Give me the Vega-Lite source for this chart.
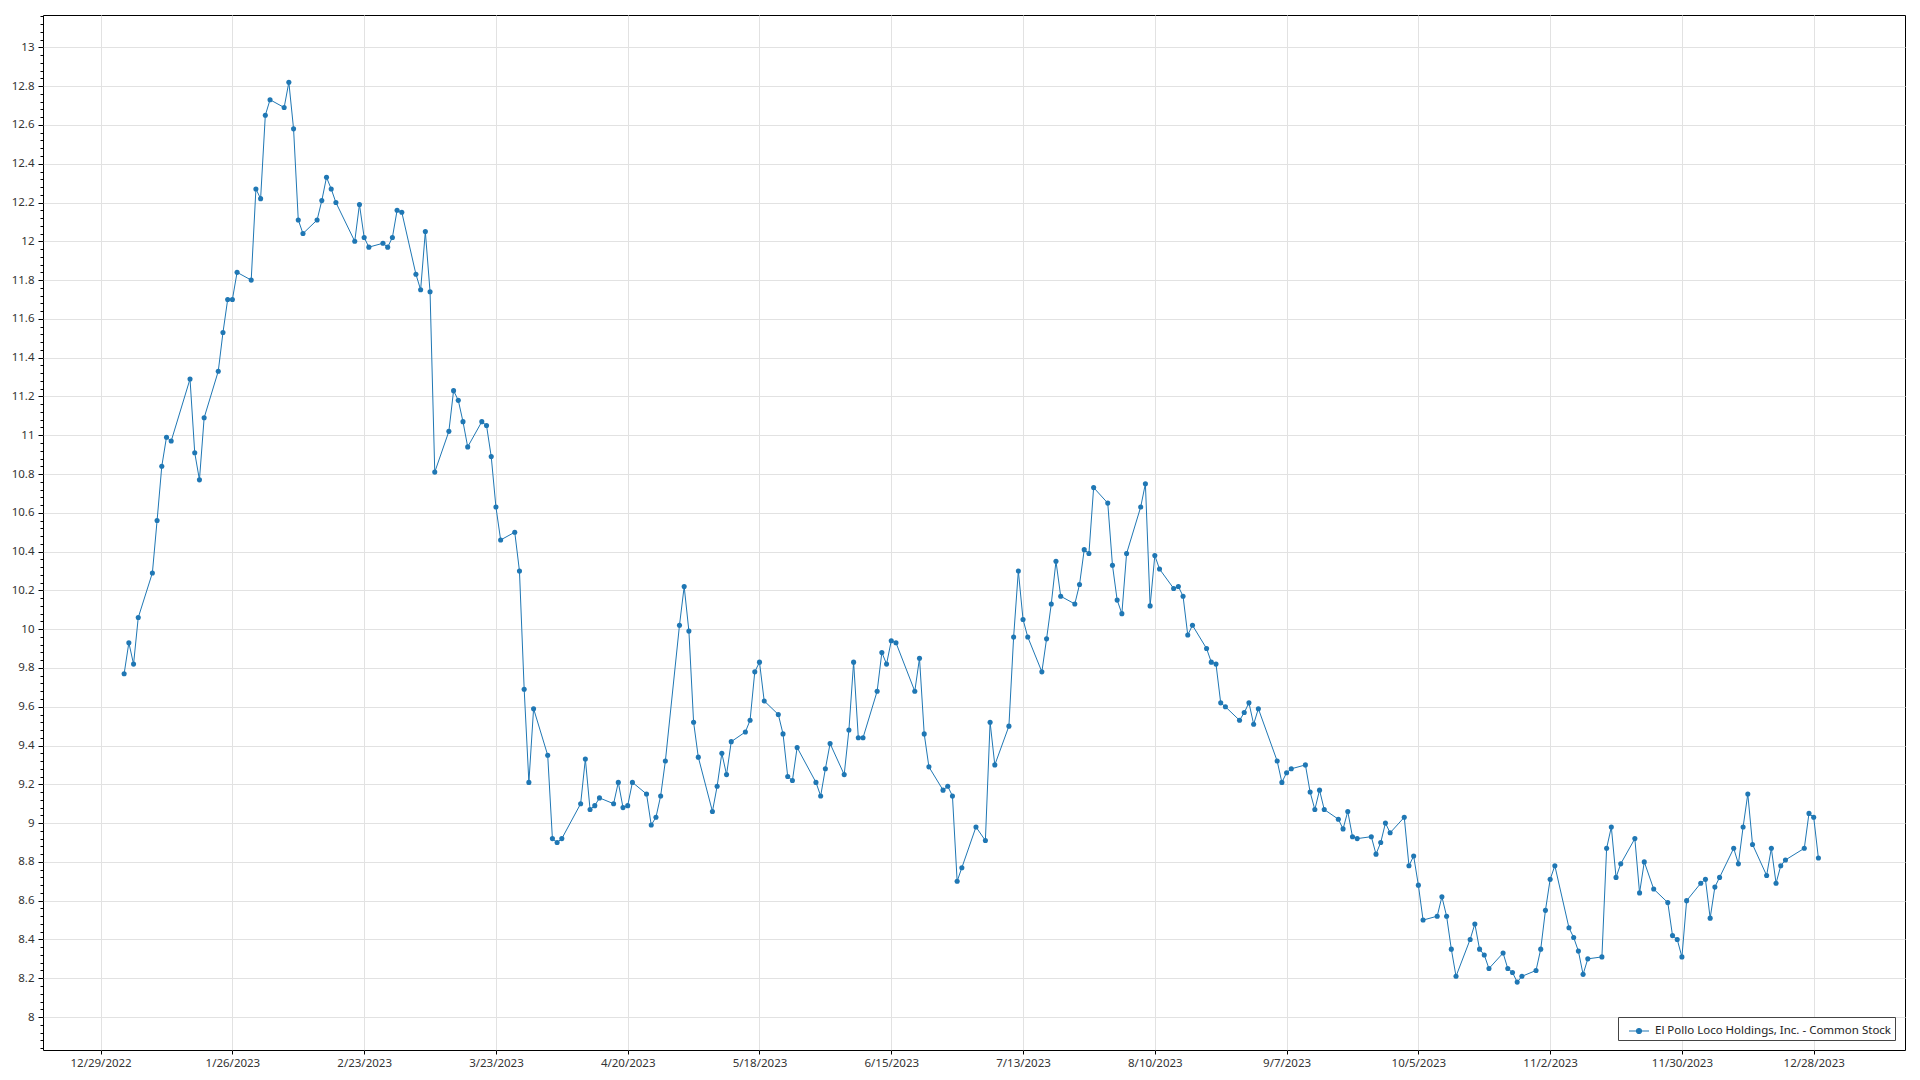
{
"$schema": "https://vega.github.io/schema/vega-lite/v6.json",
"width": 1862, "height": 1035,
"autosize": {"type": "none"},
"padding": {"left": 43, "top": 15, "right": 15, "bottom": 30},
"background": "white",
"config": {
  "view": {"stroke": "#000", "strokeWidth": 1},
  "axis": {"labelFont": "Noto Sans", "labelFontSize": 11.5, "labelColor": "#333", "gridColor": "#e2e2e2", "gridWidth": 1, "domain": false, "tickColor": "#000", "tickWidth": 1}
},
"data": {"format": {"parse": {"d": "date:'%Y-%m-%d'"}}, "values": [
{"d":"2023-01-03","v":9.77},{"d":"2023-01-04","v":9.93},{"d":"2023-01-05","v":9.82},{"d":"2023-01-06","v":10.06},{"d":"2023-01-09","v":10.29},{"d":"2023-01-10","v":10.56},{"d":"2023-01-11","v":10.84},{"d":"2023-01-12","v":10.99},{"d":"2023-01-13","v":10.97},{"d":"2023-01-17","v":11.29},{"d":"2023-01-18","v":10.91},{"d":"2023-01-19","v":10.77},{"d":"2023-01-20","v":11.09},{"d":"2023-01-23","v":11.33},{"d":"2023-01-24","v":11.53},{"d":"2023-01-25","v":11.70},{"d":"2023-01-26","v":11.70},{"d":"2023-01-27","v":11.84},{"d":"2023-01-30","v":11.80},{"d":"2023-01-31","v":12.27},
{"d":"2023-02-01","v":12.22},{"d":"2023-02-02","v":12.65},{"d":"2023-02-03","v":12.73},{"d":"2023-02-06","v":12.69},{"d":"2023-02-07","v":12.82},{"d":"2023-02-08","v":12.58},{"d":"2023-02-09","v":12.11},{"d":"2023-02-10","v":12.04},{"d":"2023-02-13","v":12.11},{"d":"2023-02-14","v":12.21},{"d":"2023-02-15","v":12.33},{"d":"2023-02-16","v":12.27},{"d":"2023-02-17","v":12.20},{"d":"2023-02-21","v":12.00},{"d":"2023-02-22","v":12.19},{"d":"2023-02-23","v":12.02},{"d":"2023-02-24","v":11.97},{"d":"2023-02-27","v":11.99},{"d":"2023-02-28","v":11.97},
{"d":"2023-03-01","v":12.02},{"d":"2023-03-02","v":12.16},{"d":"2023-03-03","v":12.15},{"d":"2023-03-06","v":11.83},{"d":"2023-03-07","v":11.75},{"d":"2023-03-08","v":12.05},{"d":"2023-03-09","v":11.74},{"d":"2023-03-10","v":10.81},{"d":"2023-03-13","v":11.02},{"d":"2023-03-14","v":11.23},{"d":"2023-03-15","v":11.18},{"d":"2023-03-16","v":11.07},{"d":"2023-03-17","v":10.94},{"d":"2023-03-20","v":11.07},{"d":"2023-03-21","v":11.05},{"d":"2023-03-22","v":10.89},{"d":"2023-03-23","v":10.63},{"d":"2023-03-24","v":10.46},{"d":"2023-03-27","v":10.50},{"d":"2023-03-28","v":10.30},{"d":"2023-03-29","v":9.69},{"d":"2023-03-30","v":9.21},{"d":"2023-03-31","v":9.59},
{"d":"2023-04-03","v":9.35},{"d":"2023-04-04","v":8.92},{"d":"2023-04-05","v":8.90},{"d":"2023-04-06","v":8.92},{"d":"2023-04-10","v":9.10},{"d":"2023-04-11","v":9.33},{"d":"2023-04-12","v":9.07},{"d":"2023-04-13","v":9.09},{"d":"2023-04-14","v":9.13},{"d":"2023-04-17","v":9.10},{"d":"2023-04-18","v":9.21},{"d":"2023-04-19","v":9.08},{"d":"2023-04-20","v":9.09},{"d":"2023-04-21","v":9.21},{"d":"2023-04-24","v":9.15},{"d":"2023-04-25","v":8.99},{"d":"2023-04-26","v":9.03},{"d":"2023-04-27","v":9.14},{"d":"2023-04-28","v":9.32},
{"d":"2023-05-01","v":10.02},{"d":"2023-05-02","v":10.22},{"d":"2023-05-03","v":9.99},{"d":"2023-05-04","v":9.52},{"d":"2023-05-05","v":9.34},{"d":"2023-05-08","v":9.06},{"d":"2023-05-09","v":9.19},{"d":"2023-05-10","v":9.36},{"d":"2023-05-11","v":9.25},{"d":"2023-05-12","v":9.42},{"d":"2023-05-15","v":9.47},{"d":"2023-05-16","v":9.53},{"d":"2023-05-17","v":9.78},{"d":"2023-05-18","v":9.83},{"d":"2023-05-19","v":9.63},{"d":"2023-05-22","v":9.56},{"d":"2023-05-23","v":9.46},{"d":"2023-05-24","v":9.24},{"d":"2023-05-25","v":9.22},{"d":"2023-05-26","v":9.39},{"d":"2023-05-30","v":9.21},{"d":"2023-05-31","v":9.14},
{"d":"2023-06-01","v":9.28},{"d":"2023-06-02","v":9.41},{"d":"2023-06-05","v":9.25},{"d":"2023-06-06","v":9.48},{"d":"2023-06-07","v":9.83},{"d":"2023-06-08","v":9.44},{"d":"2023-06-09","v":9.44},{"d":"2023-06-12","v":9.68},{"d":"2023-06-13","v":9.88},{"d":"2023-06-14","v":9.82},{"d":"2023-06-15","v":9.94},{"d":"2023-06-16","v":9.93},{"d":"2023-06-20","v":9.68},{"d":"2023-06-21","v":9.85},{"d":"2023-06-22","v":9.46},{"d":"2023-06-23","v":9.29},{"d":"2023-06-26","v":9.17},{"d":"2023-06-27","v":9.19},{"d":"2023-06-28","v":9.14},{"d":"2023-06-29","v":8.70},{"d":"2023-06-30","v":8.77},
{"d":"2023-07-03","v":8.98},{"d":"2023-07-05","v":8.91},{"d":"2023-07-06","v":9.52},{"d":"2023-07-07","v":9.30},{"d":"2023-07-10","v":9.50},{"d":"2023-07-11","v":9.96},{"d":"2023-07-12","v":10.30},{"d":"2023-07-13","v":10.05},{"d":"2023-07-14","v":9.96},{"d":"2023-07-17","v":9.78},{"d":"2023-07-18","v":9.95},{"d":"2023-07-19","v":10.13},{"d":"2023-07-20","v":10.35},{"d":"2023-07-21","v":10.17},{"d":"2023-07-24","v":10.13},{"d":"2023-07-25","v":10.23},{"d":"2023-07-26","v":10.41},{"d":"2023-07-27","v":10.39},{"d":"2023-07-28","v":10.73},{"d":"2023-07-31","v":10.65},
{"d":"2023-08-01","v":10.33},{"d":"2023-08-02","v":10.15},{"d":"2023-08-03","v":10.08},{"d":"2023-08-04","v":10.39},{"d":"2023-08-07","v":10.63},{"d":"2023-08-08","v":10.75},{"d":"2023-08-09","v":10.12},{"d":"2023-08-10","v":10.38},{"d":"2023-08-11","v":10.31},{"d":"2023-08-14","v":10.21},{"d":"2023-08-15","v":10.22},{"d":"2023-08-16","v":10.17},{"d":"2023-08-17","v":9.97},{"d":"2023-08-18","v":10.02},{"d":"2023-08-21","v":9.90},{"d":"2023-08-22","v":9.83},{"d":"2023-08-23","v":9.82},{"d":"2023-08-24","v":9.62},{"d":"2023-08-25","v":9.60},{"d":"2023-08-28","v":9.53},{"d":"2023-08-29","v":9.57},{"d":"2023-08-30","v":9.62},{"d":"2023-08-31","v":9.51},{"d":"2023-09-01","v":9.59},
{"d":"2023-09-05","v":9.32},{"d":"2023-09-06","v":9.21},{"d":"2023-09-07","v":9.26},{"d":"2023-09-08","v":9.28},{"d":"2023-09-11","v":9.30},{"d":"2023-09-12","v":9.16},{"d":"2023-09-13","v":9.07},{"d":"2023-09-14","v":9.17},{"d":"2023-09-15","v":9.07},{"d":"2023-09-18","v":9.02},{"d":"2023-09-19","v":8.97},{"d":"2023-09-20","v":9.06},{"d":"2023-09-21","v":8.93},{"d":"2023-09-22","v":8.92},{"d":"2023-09-25","v":8.93},{"d":"2023-09-26","v":8.84},{"d":"2023-09-27","v":8.90},{"d":"2023-09-28","v":9.00},{"d":"2023-09-29","v":8.95},
{"d":"2023-10-02","v":9.03},{"d":"2023-10-03","v":8.78},{"d":"2023-10-04","v":8.83},{"d":"2023-10-05","v":8.68},{"d":"2023-10-06","v":8.50},{"d":"2023-10-09","v":8.52},{"d":"2023-10-10","v":8.62},{"d":"2023-10-11","v":8.52},{"d":"2023-10-12","v":8.35},{"d":"2023-10-13","v":8.21},{"d":"2023-10-16","v":8.40},{"d":"2023-10-17","v":8.48},{"d":"2023-10-18","v":8.35},{"d":"2023-10-19","v":8.32},{"d":"2023-10-20","v":8.25},{"d":"2023-10-23","v":8.33},{"d":"2023-10-24","v":8.25},{"d":"2023-10-25","v":8.23},{"d":"2023-10-26","v":8.18},{"d":"2023-10-27","v":8.21},{"d":"2023-10-30","v":8.24},{"d":"2023-10-31","v":8.35},
{"d":"2023-11-01","v":8.55},{"d":"2023-11-02","v":8.71},{"d":"2023-11-03","v":8.78},{"d":"2023-11-06","v":8.46},{"d":"2023-11-07","v":8.41},{"d":"2023-11-08","v":8.34},{"d":"2023-11-09","v":8.22},{"d":"2023-11-10","v":8.30},{"d":"2023-11-13","v":8.31},{"d":"2023-11-14","v":8.87},{"d":"2023-11-15","v":8.98},{"d":"2023-11-16","v":8.72},{"d":"2023-11-17","v":8.79},{"d":"2023-11-20","v":8.92},{"d":"2023-11-21","v":8.64},{"d":"2023-11-22","v":8.80},{"d":"2023-11-24","v":8.66},{"d":"2023-11-27","v":8.59},{"d":"2023-11-28","v":8.42},{"d":"2023-11-29","v":8.40},{"d":"2023-11-30","v":8.31},
{"d":"2023-12-01","v":8.60},{"d":"2023-12-04","v":8.69},{"d":"2023-12-05","v":8.71},{"d":"2023-12-06","v":8.51},{"d":"2023-12-07","v":8.67},{"d":"2023-12-08","v":8.72},{"d":"2023-12-11","v":8.87},{"d":"2023-12-12","v":8.79},{"d":"2023-12-13","v":8.98},{"d":"2023-12-14","v":9.15},{"d":"2023-12-15","v":8.89},{"d":"2023-12-18","v":8.73},{"d":"2023-12-19","v":8.87},{"d":"2023-12-20","v":8.69},{"d":"2023-12-21","v":8.78},{"d":"2023-12-22","v":8.81},{"d":"2023-12-26","v":8.87},{"d":"2023-12-27","v":9.05},{"d":"2023-12-28","v":9.03},{"d":"2023-12-29","v":8.82}
]},
"mark": {"type": "line", "strokeWidth": 1, "point": {"filled": true, "size": 26}},
"encoding": {
  "x": {"field": "d", "type": "temporal", "title": null,
    "scale": {"domain": [{"year":2022,"month":12,"date":16,"hours":18,"minutes":14},{"year":2024,"month":1,"date":16,"hours":9,"minutes":36}]},
    "axis": {"values": [{"year":2022,"month":12,"date":29},{"year":2023,"month":1,"date":26},{"year":2023,"month":2,"date":23},{"year":2023,"month":3,"date":23},{"year":2023,"month":4,"date":20},{"year":2023,"month":5,"date":18},{"year":2023,"month":6,"date":15},{"year":2023,"month":7,"date":13},{"year":2023,"month":8,"date":10},{"year":2023,"month":9,"date":7},{"year":2023,"month":10,"date":5},{"year":2023,"month":11,"date":2},{"year":2023,"month":11,"date":30},{"year":2023,"month":12,"date":28}],
      "format": "%-m/%-d/%Y", "tickSize": 4, "labelPadding": 3, "labelOverlap": false, "labelFlush": false, "grid": true}},
  "y": {"field": "v", "type": "quantitative", "title": null,
    "scale": {"domain": [7.83, 13.167], "zero": false, "nice": false},
    "axis": {"values": [7.84,7.88,7.92,7.96,8,8.04,8.08,8.12,8.16,8.2,8.24,8.28,8.32,8.36,8.4,8.44,8.48,8.52,8.56,8.6,8.64,8.68,8.72,8.76,8.8,8.84,8.88,8.92,8.96,9,9.04,9.08,9.12,9.16,9.2,9.24,9.28,9.32,9.36,9.4,9.44,9.48,9.52,9.56,9.6,9.64,9.68,9.72,9.76,9.8,9.84,9.88,9.92,9.96,10,10.04,10.08,10.12,10.16,10.2,10.24,10.28,10.32,10.36,10.4,10.44,10.48,10.52,10.56,10.6,10.64,10.68,10.72,10.76,10.8,10.84,10.88,10.92,10.96,11,11.04,11.08,11.12,11.16,11.2,11.24,11.28,11.32,11.36,11.4,11.44,11.48,11.52,11.56,11.6,11.64,11.68,11.72,11.76,11.8,11.84,11.88,11.92,11.96,12,12.04,12.08,12.12,12.16,12.2,12.24,12.28,12.32,12.36,12.4,12.44,12.48,12.52,12.56,12.6,12.64,12.68,12.72,12.76,12.8,12.84,12.88,12.92,12.96,13,13.04,13.08,13.12,13.16],
      "labelExpr": "abs(datum.value*5 - round(datum.value*5)) < 0.001 ? toString(round(datum.value*10)/10) : ''",
      "tickSize": {"condition": {"test": "abs(datum.value*5 - round(datum.value*5)) < 0.001", "value": 5}, "value": 3},
      "gridOpacity": {"condition": {"test": "abs(datum.value*5 - round(datum.value*5)) < 0.001", "value": 1}, "value": 0},
      "labelPadding": 4, "labelOverlap": false, "labelFlush": false, "grid": true}},
  "color": {"datum": "El Pollo Loco Holdings, Inc. - Common Stock", "type": "nominal",
    "scale": {"range": ["#1f77b4"]},
    "legend": {"orient": "none", "legendX": 1575, "legendY": 1002, "title": null, "fillColor": "white", "strokeColor": "#444", "padding": 3, "symbolOffset": 7,
      "labelFont": "Noto Sans", "labelFontSize": 11.5, "labelColor": "#222", "labelOffset": 5, "labelLimit": 0,
      "symbolType": "M-1,0H1M-0.25,0A0.25,0.25 0 1,0 0.25,0A0.25,0.25 0 1,0 -0.25,0",
      "symbolSize": 400, "symbolStrokeWidth": 1.2, "symbolFillColor": "#1f77b4", "symbolStrokeColor": "#1f77b4"}}
}
}
